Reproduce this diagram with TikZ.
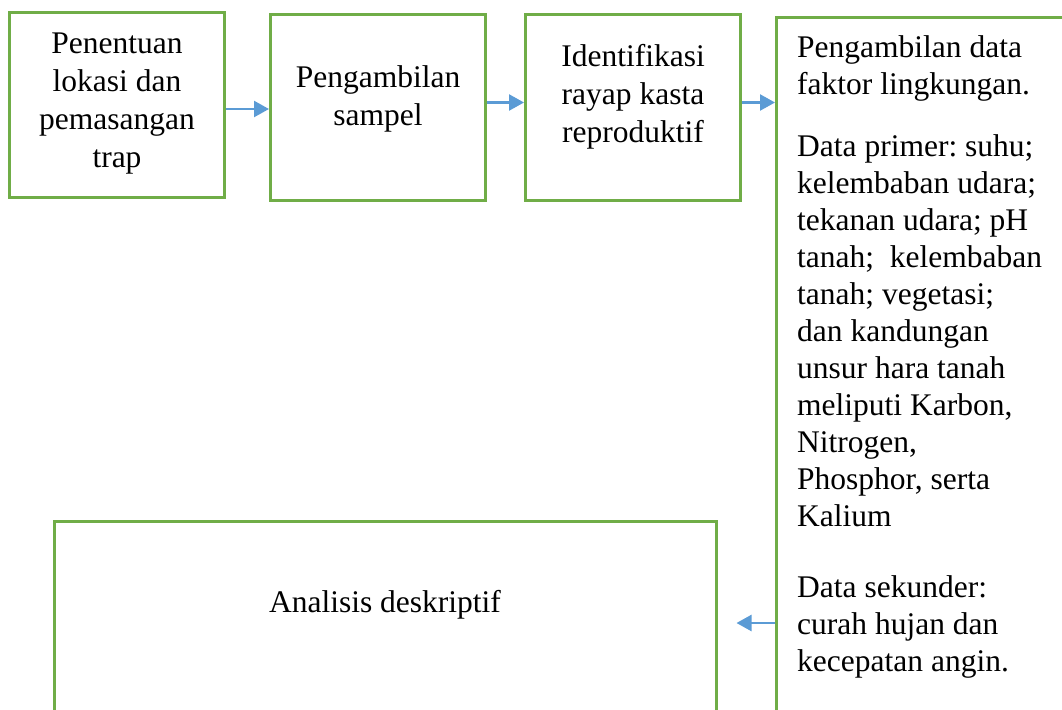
\documentclass[tikz,border=0pt]{standalone}
\usepackage{fontspec}
\setmainfont{Liberation Serif}
\usepackage{tikz}
\usetikzlibrary{%
  positioning
 ,arrows.meta
 ,calc
}
\frenchspacing
\definecolor{boxgreen}{HTML}{70AD47}
\definecolor{flowblue}{HTML}{5B9BD5}
\tikzstyle{kotak}=[draw=boxgreen,line width=3pt,inner sep=0pt,minimum width=215pt,minimum height=185pt]
\tikzstyle{teks}=[font=\fontsize{31.5}{38}\selectfont,align=center,inner sep=0pt]
\tikzstyle{alur}=[draw=flowblue,line width=2.4pt,-{Triangle[length=15pt,width=16pt]}]

\begin{document}
\begin{tikzpicture}[x=1pt,y=-1pt]
      \useasboundingbox (0,0) rectangle (1062,709);
      \clip (0,0) rectangle (1062,709);
      \node[kotak] (b1) at (117,105) {};
      \node[kotak,right=43pt of b1,yshift=-2.5pt] (b2) {};
      \node[kotak,right=37pt of b2] (b3) {};
      \node[kotak,minimum width=310pt,minimum height=720pt,anchor=north west] (b4) at (775,16) {};
      \node[kotak,minimum width=662pt,minimum height=204pt] (fin) at (385,623) {};
      \node[teks,yshift=1.5pt] (t1) at (b1) {Penentuan\\lokasi dan\\pemasangan\\trap};
      \node[teks,yshift=9pt] (t2) at (b2) {Pengambilan\\sampel};
      \node[teks,yshift=11pt] (t3) at (b3) {Identifikasi\\rayap kasta\\reproduktif};
      \node[teks,align=left,anchor=north west,font=\fontsize{31.5}{37}\selectfont] (t4) at (797,35.5)
        {Pengambilan data\\faktor lingkungan.\\[25pt]Data primer: suhu;\\kelembaban udara;\\tekanan udara; pH\\tanah;~ kelembaban\\tanah; vegetasi;\\dan kandungan\\unsur hara tanah\\meliputi Karbon,\\Nitrogen,\\Phosphor, serta\\Kalium\\[34pt]Data sekunder:\\curah hujan dan\\kecepatan angin.};
      \node[teks,yshift=18.5pt] (t5) at (fin) {Analisis deskriptif};
      \draw[alur] ([yshift=-4pt]b1.east) -- ([yshift=-4pt]b1.east -| b2.west);
      \draw[alur] ([yshift=5pt]b2.east) -- ([yshift=5pt]b2.east -| b3.west);
      \draw[alur] ([yshift=5pt]b3.east) -- ([yshift=5pt]b3.east -| b4.west);
      \draw[alur,shorten >=19pt] (fin.east -| b4.west) -- (fin.east);
    \end{tikzpicture}
\end{document}
